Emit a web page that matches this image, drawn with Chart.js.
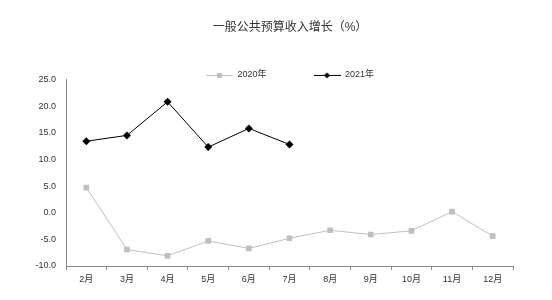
<!DOCTYPE html>
<html>
<head>
<meta charset="utf-8">
<script src="https://cdn.jsdelivr.net/npm/chart.js@4"></script>
<style>
  html, body { margin: 0; padding: 0; background: #fff; }
  #wrap { width: 552px; height: 300px; }
</style>
</head>
<body>
<div id="wrap"><canvas id="chart" width="552" height="300"></canvas></div>
<script>
// 数据
const months = ['2月', '3月', '4月', '5月', '6月', '7月', '8月', '9月', '10月', '11月', '12月'];
const growth2020 = [4.7, -6.9, -8.1, -5.3, -6.7, -4.8, -3.3, -4.1, -3.4, 0.2, -4.4];
const growth2021 = [13.4, 14.5, 20.8, 12.3, 15.8, 12.8, null, null, null, null, null];
const yTicks = [25, 20, 15, 10, 5, 0, -5, -10];

const fontFamily = '"Liberation Sans", "Noto Sans CJK SC", sans-serif';

// legend icon: short line with marker in the middle
function legendIcon(color, shape) {
  const c = document.createElement('canvas');
  c.width = 27; c.height = 8;
  const g = c.getContext('2d');
  g.strokeStyle = color;
  g.lineWidth = 1;
  g.beginPath(); g.moveTo(0, 4.5); g.lineTo(27, 4.5); g.stroke();
  g.fillStyle = color;
  if (shape === 'rect') {
    g.fillRect(11, 2, 5, 5);
  } else {
    g.beginPath();
    g.moveTo(13.5, 1.5); g.lineTo(16.5, 4.5); g.lineTo(13.5, 7.5); g.lineTo(10.5, 4.5);
    g.closePath(); g.fill();
  }
  return c;
}

const icon2020 = legendIcon('#bfbfbf', 'rect');
const icon2021 = legendIcon('#000000', 'diamond');

new Chart(document.getElementById('chart'), {
  type: 'line',
  data: {
    labels: months,
    datasets: [
      {
        label: '2020年',
        data: growth2020,
        borderColor: '#c0c0c0',
        backgroundColor: '#bfbfbf',
        borderWidth: 1,
        pointStyle: 'rect',
        pointRadius: 4,
        pointBorderWidth: 0,
        tension: 0
      },
      {
        label: '2021年',
        data: growth2021,
        borderColor: '#000000',
        backgroundColor: '#000000',
        borderWidth: 1,
        pointStyle: 'rectRot',
        pointRadius: 4,
        pointBorderWidth: 0,
        tension: 0,
        spanGaps: false
      }
    ]
  },
  options: {
    responsive: false,
    animation: false,
    // left padding + empty right scale keep the title and legend centred over the plot
    layout: { padding: { left: 28, right: 0, top: 0, bottom: 8 } },
    plugins: {
      title: {
        display: true,
        text: '一般公共预算收入增长（%）',
        color: '#333',
        font: { family: fontFamily, size: 12, weight: 'normal' },
        padding: { top: 20, bottom: -11 }
      },
      legend: {
        display: true,
        maxHeight: 56,
        labels: {
          usePointStyle: true,
          pointStyleWidth: 27,
          color: '#333',
          padding: 47,
          font: { family: fontFamily, size: 9 },
          generateLabels: function(chart) {
            return chart.data.datasets.map((ds, i) => ({
              text: ds.label,
              pointStyle: i === 0 ? icon2020 : icon2021,
              fontColor: '#333',
              hidden: false,
              datasetIndex: i,
              lineWidth: 0
            }));
          }
        }
      },
      tooltip: { enabled: false }
    },
    scales: {
      x: {
        offset: true,
        grid: {
          display: true,
          drawOnChartArea: false,
          drawTicks: true,
          tickLength: 4,
          color: '#888',
          offset: true
        },
        border: { display: true, color: '#888' },
        ticks: {
          color: '#333',
          font: { family: fontFamily, size: 9 },
          padding: 4,
          maxRotation: 0,
          autoSkip: false
        },
        afterFit: function(scale) { scale.height = 26; }
      },
      y: {
        min: -10,
        max: 25,
        grid: { display: false, drawTicks: false },
        border: { display: true, color: '#888' },
        afterBuildTicks: function(scale) {
          scale.ticks = yTicks.map(v => ({ value: v }));
        },
        ticks: {
          color: '#333',
          font: { family: fontFamily, size: 9 },
          padding: 10,
          callback: function(v) { return v.toFixed(1); }
        },
        afterFit: function(scale) { scale.width = 38; }
      },
      yRight: {
        position: 'right',
        display: true,
        min: -10,
        max: 25,
        grid: { display: false, drawTicks: false },
        border: { display: false },
        ticks: { display: false },
        afterFit: function(scale) { scale.width = 39; }
      }
    }
  }
});
</script>
</body>
</html>
